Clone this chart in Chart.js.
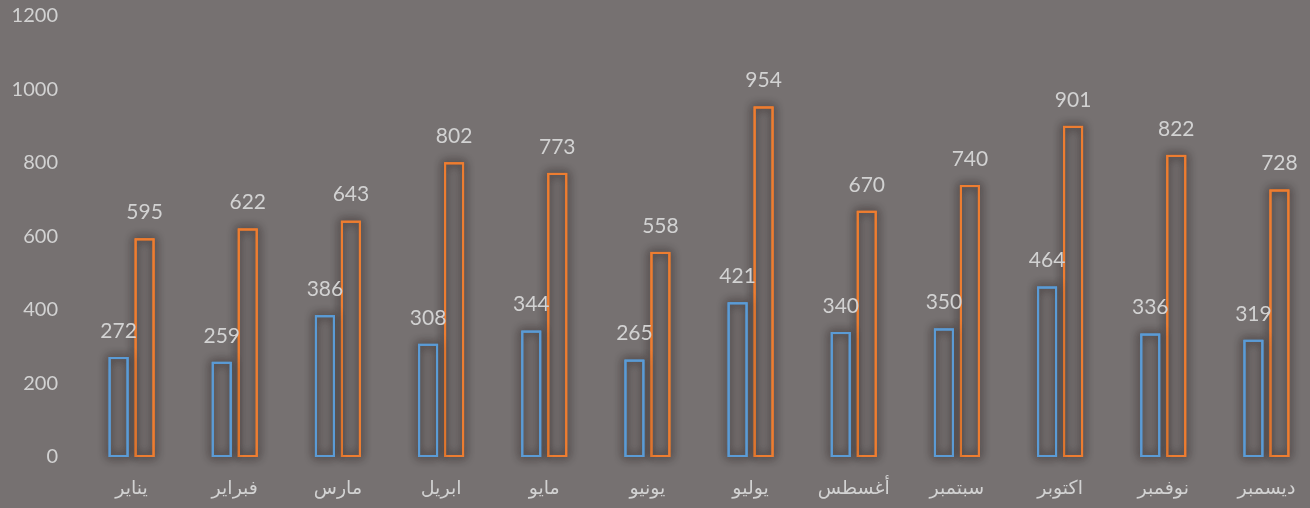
<!DOCTYPE html>
<html>
<head>
<meta charset="utf-8">
<script src="https://cdn.jsdelivr.net/npm/chart.js@4/dist/chart.umd.min.js"></script>
<style>
  html, body { margin: 0; padding: 0; background: #767171; overflow: hidden; }
  #wrap { width: 1320px; height: 508px; }
</style>
</head>
<body>
<div id="wrap"><canvas id="grafico"></canvas></div>
<script>
var meses = ["يناير", "فبراير", "مارس", "ابريل", "مايو", "يونيو", "يوليو", "أغسطس", "سبتمبر", "اكتوبر", "نوفمبر", "ديسمبر"];
var serieAzul = [272, 259, 386, 308, 344, 265, 421, 340, 350, 464, 336, 319];
var serieLaranja = [595, 622, 643, 802, 773, 558, 954, 670, 740, 901, 822, 728];

var corTexto = "#d2d2d2";

// sombra escura em volta das barras (desenhada antes de cada barra)
var sombraBarras = {
    id: "sombraBarras",
    beforeDatasetDraw: function (chart, args) {
        var ctx = chart.ctx;
        var meta = chart.getDatasetMeta(args.index);
        var cor = chart.data.datasets[args.index].borderColor;
        ctx.save();
        ctx.shadowColor = "rgba(40,30,30,0.85)";
        ctx.shadowBlur = 10;
        ctx.strokeStyle = cor;
        ctx.lineWidth = 2;
        meta.data.forEach(function (bar) {
            var p = bar.getProps(["x", "y", "base", "width"], true);
            ctx.strokeRect(p.x - p.width / 2 + 1, p.y + 1, p.width - 2, p.base - p.y - 2);
            ctx.strokeRect(p.x - p.width / 2 + 1, p.y + 1, p.width - 2, p.base - p.y - 2);
        });
        ctx.restore();
    }
};

// valores em cima das barras
var rotulos = {
    id: "rotulos",
    afterDatasetsDraw: function (chart) {
        var ctx = chart.ctx;
        ctx.save();
        ctx.font = "21px Lato";
        ctx.fillStyle = corTexto;
        ctx.textAlign = "center";
        ctx.textBaseline = "middle";
        chart.data.datasets.forEach(function (ds, i) {
            chart.getDatasetMeta(i).data.forEach(function (bar, j) {
                var p = bar.getProps(["x", "y"], true);
                ctx.fillText(ds.data[j], p.x, p.y - 26);
            });
        });
        ctx.restore();
    }
};

var ctx = document.getElementById("grafico").getContext("2d");
var grafico = new Chart(ctx, {
    type: "bar",
    data: {
        labels: meses,
        datasets: [
            {
                label: "Serie 1",
                data: serieAzul,
                backgroundColor: "rgba(0,0,0,0)",
                borderColor: "#5b9bd5",
                borderWidth: 2,
                borderSkipped: false
            },
            {
                label: "Serie 2",
                data: serieLaranja,
                backgroundColor: "rgba(0,0,0,0)",
                borderColor: "#ed7d31",
                borderWidth: 2,
                borderSkipped: false
            }
        ]
    },
    options: {
        responsive: true,
        maintainAspectRatio: false,
        animation: false,
        categoryPercentage: 0.504,
        barPercentage: 0.77,
        layout: { padding: { left: 8, right: 2, top: 16, bottom: 0 } },
        plugins: {
            legend: { display: false },
            tooltip: { enabled: false }
        },
        scales: {
            x: {
                grid: { display: false, drawTicks: false },
                border: { display: false },
                ticks: {
                    color: corTexto,
                    font: { family: "'DejaVu Sans', Lato", size: 19 },
                    padding: 21,
                    maxRotation: 0
                },
                afterFit: function (s) {
                    s.height = 51;
                    s.paddingLeft = 0;
                    s.paddingRight = 0;
                }
            },
            y: {
                min: 0,
                max: 1200,
                grid: { display: false, drawTicks: false },
                border: { display: false },
                ticks: {
                    stepSize: 200,
                    color: corTexto,
                    font: { family: "Lato", size: 20 },
                    padding: 22,
                    callback: function (v) { return String(v); }
                },
                afterFit: function (s) {
                    s.width = 72;
                    s.paddingTop = 0;
                    s.paddingBottom = 0;
                }
            }
        }
    },
    plugins: [sombraBarras, rotulos]
});
</script>
</body>
</html>
